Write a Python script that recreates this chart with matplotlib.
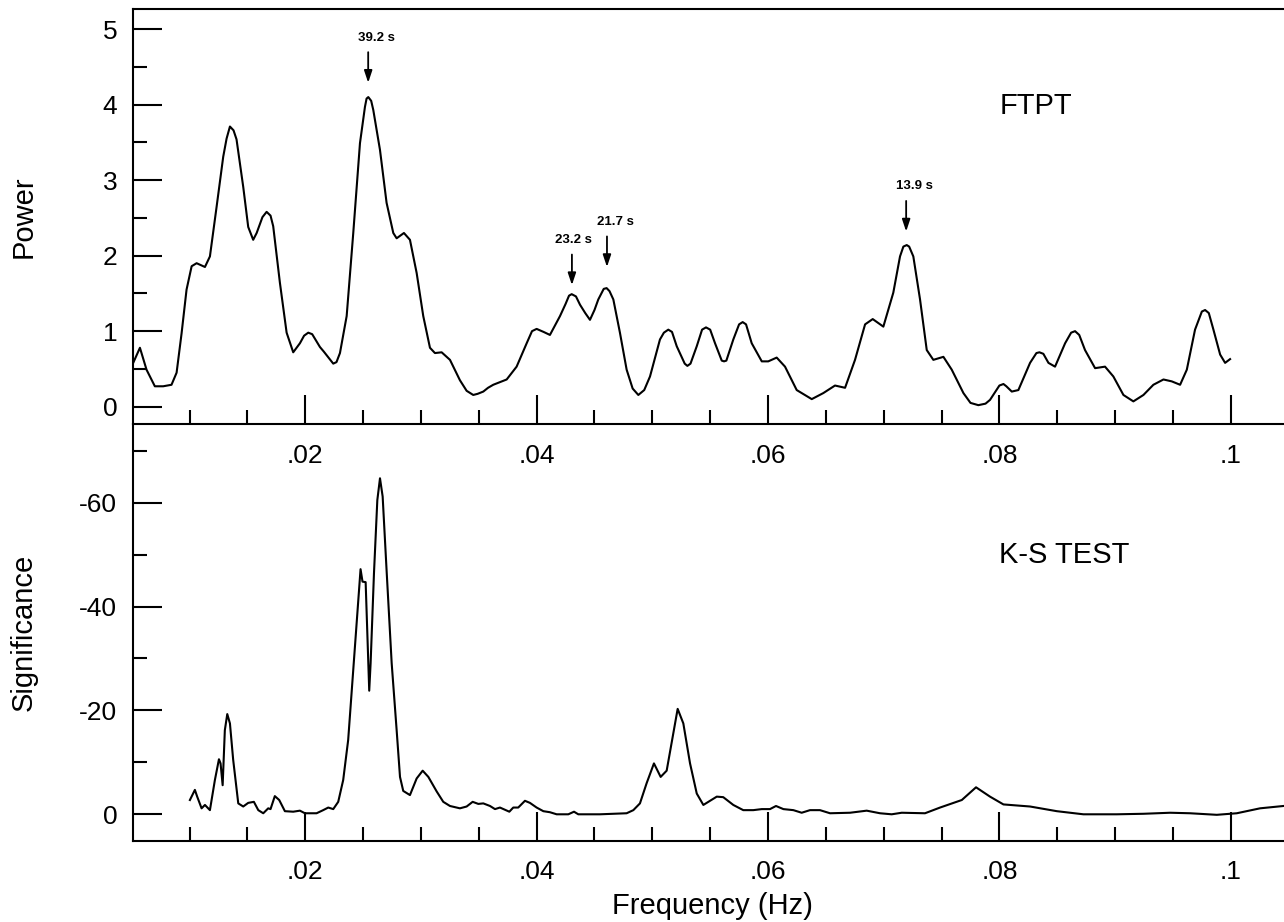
import matplotlib
matplotlib.use("Agg")
import matplotlib.pyplot as plt
from matplotlib.ticker import MultipleLocator, FuncFormatter

plt.rcParams["font.family"] = ["Liberation Sans", "DejaVu Sans"]
plt.rcParams["axes.unicode_minus"] = False

# FTPT power spectrum
ftpt_freq = [
    0.00513, 0.00571, 0.00628, 0.00700, 0.00772, 0.00844, 0.00888, 0.00931,
    0.00974, 0.01018, 0.01061, 0.01133, 0.01176, 0.01234, 0.01291, 0.01320,
    0.01349, 0.01380, 0.01406, 0.01464, 0.01507, 0.01550, 0.01580, 0.01630,
    0.01666, 0.01700, 0.01723, 0.01781, 0.01839, 0.01896, 0.01954, 0.01990,
    0.02026, 0.02060, 0.02127, 0.02160, 0.02242, 0.02270, 0.02300, 0.02358,
    0.02415, 0.02473, 0.02516, 0.02530, 0.02545, 0.02570, 0.02588, 0.02646,
    0.02703, 0.02761, 0.02790, 0.02853, 0.02905, 0.02963, 0.03020, 0.03078,
    0.03121, 0.03179, 0.03251, 0.03337, 0.03395, 0.03452, 0.03490, 0.03539,
    0.03580, 0.03625, 0.03741, 0.03827, 0.03914, 0.03960, 0.04000, 0.04060,
    0.04115, 0.04202, 0.04250, 0.04280, 0.04303, 0.04340, 0.04375, 0.04420,
    0.04461, 0.04500, 0.04533, 0.04580, 0.04605, 0.04630, 0.04663, 0.04720,
    0.04778, 0.04830, 0.04879, 0.04930, 0.04980, 0.05066, 0.05100, 0.05138,
    0.05170, 0.05211, 0.05280, 0.05303, 0.05330, 0.05384, 0.05430, 0.05464,
    0.05500, 0.05542, 0.05600, 0.05620, 0.05640, 0.05700, 0.05750, 0.05781,
    0.05810, 0.05859, 0.05946, 0.06002, 0.06075, 0.06147, 0.06248, 0.06378,
    0.06478, 0.06579, 0.06666, 0.06752, 0.06839, 0.06905, 0.06997, 0.07083,
    0.07141, 0.07170, 0.07199, 0.07220, 0.07256, 0.07314, 0.07372, 0.07429,
    0.07516, 0.07588, 0.07689, 0.07750, 0.07818, 0.07880, 0.07919, 0.08000,
    0.08035, 0.08060, 0.08107, 0.08164, 0.08265, 0.08320, 0.08346, 0.08380,
    0.08424, 0.08481, 0.08568, 0.08620, 0.08654, 0.08690, 0.08740, 0.08827,
    0.08913, 0.08985, 0.09072, 0.09158, 0.09245, 0.09331, 0.09418, 0.09490,
    0.09562, 0.09620, 0.09691, 0.09750, 0.09778, 0.09810, 0.09850, 0.09908,
    0.09951, 0.09994,
]
ftpt_power = [
    0.58, 0.78, 0.49, 0.27, 0.27, 0.29, 0.45, 0.97,
    1.55, 1.86, 1.90, 1.85, 1.99, 2.65, 3.31, 3.55,
    3.71, 3.66, 3.54, 2.91, 2.38, 2.21, 2.30, 2.51,
    2.58, 2.53, 2.39, 1.64, 0.98, 0.72, 0.84, 0.94,
    0.98, 0.96, 0.79, 0.73, 0.57, 0.59, 0.71, 1.20,
    2.30, 3.49, 3.97, 4.08, 4.10, 4.05, 3.93, 3.40,
    2.70, 2.30, 2.23, 2.30, 2.21, 1.77, 1.20, 0.78,
    0.71, 0.72, 0.62, 0.35, 0.21, 0.155, 0.17, 0.20,
    0.25, 0.29, 0.36, 0.53, 0.84, 1.00, 1.03, 0.99,
    0.95, 1.20, 1.36, 1.47, 1.49, 1.46, 1.35, 1.24,
    1.15, 1.28, 1.42, 1.56, 1.57, 1.53, 1.42, 0.98,
    0.49, 0.24, 0.155, 0.22, 0.40, 0.89, 0.98, 1.02,
    0.99, 0.80, 0.57, 0.54, 0.57, 0.80, 1.02, 1.05,
    1.02, 0.84, 0.61, 0.60, 0.61, 0.89, 1.09, 1.12,
    1.09, 0.84, 0.60, 0.60, 0.65, 0.53, 0.22, 0.10,
    0.18, 0.28, 0.25, 0.62, 1.09, 1.16, 1.06, 1.51,
    1.99, 2.12, 2.14, 2.12, 1.99, 1.42, 0.75, 0.62,
    0.66, 0.49, 0.18, 0.05, 0.02, 0.04, 0.09, 0.28,
    0.30, 0.27, 0.20, 0.22, 0.58, 0.71, 0.72, 0.70,
    0.58, 0.53, 0.84, 0.98, 1.00, 0.95, 0.75, 0.51,
    0.53, 0.40, 0.155, 0.07, 0.155, 0.29, 0.36, 0.335,
    0.29, 0.49, 1.02, 1.26, 1.28, 1.24, 1.02, 0.69,
    0.58, 0.63,
]

# K-S test significance (lower panel)
ks_freq = [
    0.01003, 0.01046, 0.01066, 0.01104, 0.01133, 0.01176, 0.01219, 0.01254,
    0.01268, 0.01286, 0.01305, 0.01326, 0.01349, 0.01377, 0.01421, 0.01464,
    0.01507, 0.01556, 0.01594, 0.01637, 0.01680, 0.01700, 0.01737, 0.01775,
    0.01824, 0.01896, 0.01954, 0.01997, 0.02098, 0.02155, 0.02199, 0.02242,
    0.02285, 0.02328, 0.02371, 0.02415, 0.02449, 0.02478, 0.02495, 0.02522,
    0.02553, 0.02565, 0.02594, 0.02623, 0.02646, 0.02669, 0.02703, 0.02747,
    0.02790, 0.02819, 0.02847, 0.02905, 0.02963, 0.03015, 0.03064, 0.03136,
    0.03193, 0.03251, 0.03337, 0.03395, 0.03447, 0.03496, 0.03539, 0.03597,
    0.03640, 0.03683, 0.03764, 0.03798, 0.03841, 0.03899, 0.03942, 0.04000,
    0.04058, 0.04115, 0.04173, 0.04274, 0.04323, 0.04360, 0.04547, 0.04778,
    0.04836, 0.04893, 0.04951, 0.05014, 0.05072, 0.05124, 0.05219, 0.05268,
    0.05326, 0.05384, 0.05441, 0.05499, 0.05557, 0.05613, 0.05700, 0.05786,
    0.05873, 0.05946, 0.06017, 0.06069, 0.06133, 0.06219, 0.06291, 0.06363,
    0.06449, 0.06536, 0.06709, 0.06853, 0.06968, 0.07069, 0.07156, 0.07357,
    0.07487, 0.07675, 0.07798, 0.07919, 0.08035, 0.08265, 0.08496, 0.08726,
    0.09014, 0.09245, 0.09476, 0.09648, 0.09879, 0.10052, 0.10253, 0.10455,
]
ks_signif = [
    -2.75, -4.7, -3.4, -1.15, -1.8, -0.8, -6.6, -10.6,
    -9.8, -5.6, -16.2, -19.3, -17.5, -10.5, -2.1, -1.5,
    -2.2, -2.4, -0.8, -0.2, -1.15, -1.0, -3.5, -2.75,
    -0.6, -0.5, -0.7, -0.2, -0.2, -0.8, -1.3, -1.0,
    -2.4, -6.6, -14.3, -27.8, -38.1, -47.2, -44.8, -44.7,
    -23.8, -29.1, -46.4, -60.5, -64.7, -61.2, -47.0, -29.1,
    -16.2, -7.2, -4.5, -3.7, -6.9, -8.4, -7.2, -4.4,
    -2.4, -1.6, -1.15, -1.5, -2.4, -2.0, -2.1, -1.6,
    -1.0, -1.3, -0.5, -1.3, -1.3, -2.6, -2.2, -1.3,
    -0.6, -0.4, 0.0, 0.0, -0.5, 0.0, 0.0, -0.2,
    -0.8, -2.1, -6.0, -9.8, -7.2, -8.4, -20.3, -17.5,
    -9.8, -4.0, -1.8, -2.6, -3.4, -3.3, -1.8, -0.8,
    -0.8, -1.0, -1.0, -1.6, -1.0, -0.8, -0.3, -0.8,
    -0.8, -0.2, -0.3, -0.7, -0.2, 0.0, -0.3, -0.2,
    -1.3, -2.75, -5.2, -3.4, -1.9, -1.5, -0.6, 0.0,
    0.0, -0.1, -0.3, -0.2, 0.1, -0.2, -1.15, -1.6,
]

# marked periods: label, frequency, arrow tip (power)
peak_labels = ["39.2 s", "23.2 s", "21.7 s", "13.9 s"]
peak_freqs = [0.02544, 0.04305, 0.04608, 0.07194]
peak_tips = [4.29, 1.61, 1.85, 2.32]
label_dx = [6, 1, 6, 6]  # points, text shift right of arrow


def freq_fmt(v, pos):
    return f"{v:.2f}".rstrip("0").lstrip("0")


def style_axis(ax):
    ax.spines["right"].set_visible(False)
    for s in ax.spines.values():
        s.set_linewidth(1.5)
    ax.xaxis.set_major_locator(MultipleLocator(0.02))
    ax.xaxis.set_minor_locator(MultipleLocator(0.005))
    ax.xaxis.set_major_formatter(FuncFormatter(freq_fmt))
    ax.tick_params(which="both", direction="in", width=1.5, labelsize=19,
                   right=False, top=False)
    ax.tick_params(which="major", length=21)
    ax.tick_params(which="minor", length=10)
    ax.tick_params(axis="y", pad=11)
    ax.tick_params(axis="x", pad=14)


fig = plt.figure(figsize=(12.84, 9.22), dpi=100)
ax1 = fig.add_axes([0.1033, 0.5396, 0.8967, 0.4501])
ax2 = fig.add_axes([0.1033, 0.0882, 0.8967, 0.4514])
ax2.set_facecolor("none")

xlim = (0.00508, 0.1046)

# upper panel: FTPT power
ax1.plot(ftpt_freq, ftpt_power, color="black", lw=1.5)
ax1.set_xlim(*xlim)
ax1.set_ylim(-0.236, 5.26)
ax1.yaxis.set_major_locator(MultipleLocator(1))
ax1.yaxis.set_minor_locator(MultipleLocator(0.5))
style_axis(ax1)
ax1.set_ylabel("Power", fontsize=21, va="center")
ax1.yaxis.set_label_coords(-0.095, 0.5)
ax1.text(0.08, 3.98, "FTPT", fontsize=21, ha="left", va="center")

for lab, f, tip, dx in zip(peak_labels, peak_freqs, peak_tips, label_dx):
    ax1.annotate("", xy=(f, tip), xytext=(0, 22), textcoords="offset points",
                 arrowprops=dict(arrowstyle="-|>,head_length=0.6,head_width=0.2",
                                 color="black", lw=1.3, shrinkA=0, shrinkB=0,
                                 mutation_scale=12))
    ax1.annotate(lab, xy=(f, tip), xytext=(dx, 32.5), textcoords="offset points",
                 ha="center", va="center", fontsize=9.5, fontweight="bold")

# lower panel: K-S test
ax2.plot(ks_freq, ks_signif, color="black", lw=1.5)
ax2.set_xlim(*xlim)
ax2.set_ylim(5.08, -75.06)
ax2.yaxis.set_major_locator(MultipleLocator(20))
ax2.yaxis.set_minor_locator(MultipleLocator(10))
style_axis(ax2)
ax2.spines["top"].set_visible(False)
ax2.set_ylabel("Significance", fontsize=21, va="center")
ax2.yaxis.set_label_coords(-0.095, 0.5)
ax2.set_xlabel("Frequency (Hz)", fontsize=21)
ax2.xaxis.set_label_coords(0.504, -0.123)
ax2.text(0.08, -50, "K-S TEST", fontsize=21, ha="left", va="center")

fig.savefig("out.png", dpi=100)
